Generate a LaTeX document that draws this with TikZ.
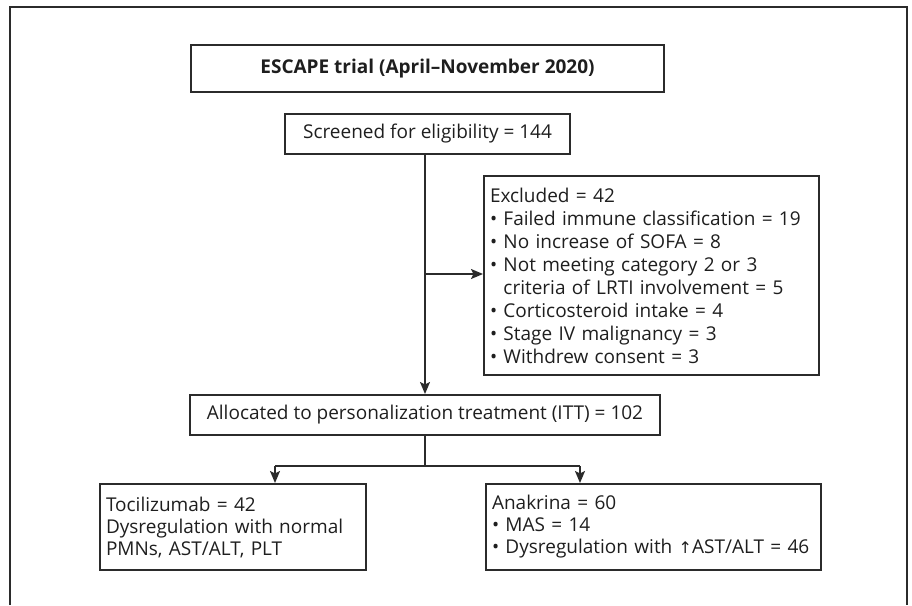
\documentclass[tikz,border=0pt]{standalone}
\usepackage{fontspec}
\setmainfont{Open Sans}
\newfontfamily\symfont{DejaVu Sans}
\usetikzlibrary{arrows.meta}
\definecolor{ln}{HTML}{2B2B2B}
\definecolor{tx}{HTML}{1E1E1E}
\begin{document}
\begin{tikzpicture}[x=1pt,y=-1pt,
  box/.style={draw=ln,line width=2pt,text=tx,inner sep=0pt,font=\fontsize{19}{22}\selectfont},
  conn/.style={draw=ln,line width=1.8pt},
  arr/.style={conn,-{Stealth[length=12pt,width=10pt,inset=2.5pt]}}]
\useasboundingbox (0,0) rectangle (912,605);
% outer frame (open at the bottom)
\draw[ln,line width=2pt] (10,605) -- (10,7) -- (907,7) -- (907,605);
% boxes
\node[box,anchor=north west,minimum width=473pt,minimum height=47pt,font=\fontsize{19}{23}\selectfont\bfseries] (title) at (190,44) {ESCAPE trial (April–November 2020)};
\node[box,anchor=north west,minimum width=285pt,minimum height=40pt] (screened) at (284,113) {Screened for eligibility = 144};
\node[box,anchor=north west,minimum width=335pt,minimum height=199pt,text width=323pt,align=left,inner xsep=6pt,inner ysep=0pt,font=\fontsize{19}{23}\selectfont] (excl) at (483,175) {Excluded = 42\\
• Failed immune classification = 19\\
• No increase of SOFA = 8\\
• Not meeting category 2 or 3\\
\hphantom{• }criteria of LRTI involvement = 5\\
• Corticosteroid intake = 4\\
• Stage IV malignancy = 3\\
• Withdrew consent = 3};
\node[box,anchor=north west,minimum width=470pt,minimum height=40pt] (alloc) at (189,394) {Allocated to personalization treatment (ITT) = 102};
\node[box,anchor=north west,minimum width=266pt,minimum height=86pt,text width=254pt,align=left,inner xsep=6pt] (toci) at (99,483) {Tocilizumab = 42\\
Dysregulation with normal\\
PMNs, AST/ALT, PLT};
\node[box,anchor=north west,minimum width=335pt,minimum height=86pt,text width=323pt,align=left,inner xsep=6pt] (anak) at (485,483) {Anakrina = 60\\
• MAS = 14\\
• Dysregulation with {\symfont\fontsize{16}{22}\selectfont ↑}AST/ALT = 46};
% connectors
\coordinate (top) at (425,153);
\coordinate (j1) at (425,274);
\coordinate (j2) at (425,466);
\coordinate (bl) at (275,466);
\coordinate (br) at (580,466);
\draw[arr] (top) -- (top |- alloc.north);
\draw[arr] (j1) -- (excl.west |- j1);
\draw[conn] (j2 |- alloc.south) -- (j2);
\draw[conn] (bl) -- (br);
\draw[arr] (bl) -- (bl |- toci.north);
\draw[arr] (br) -- (br |- anak.north);
\end{tikzpicture}
\end{document}
